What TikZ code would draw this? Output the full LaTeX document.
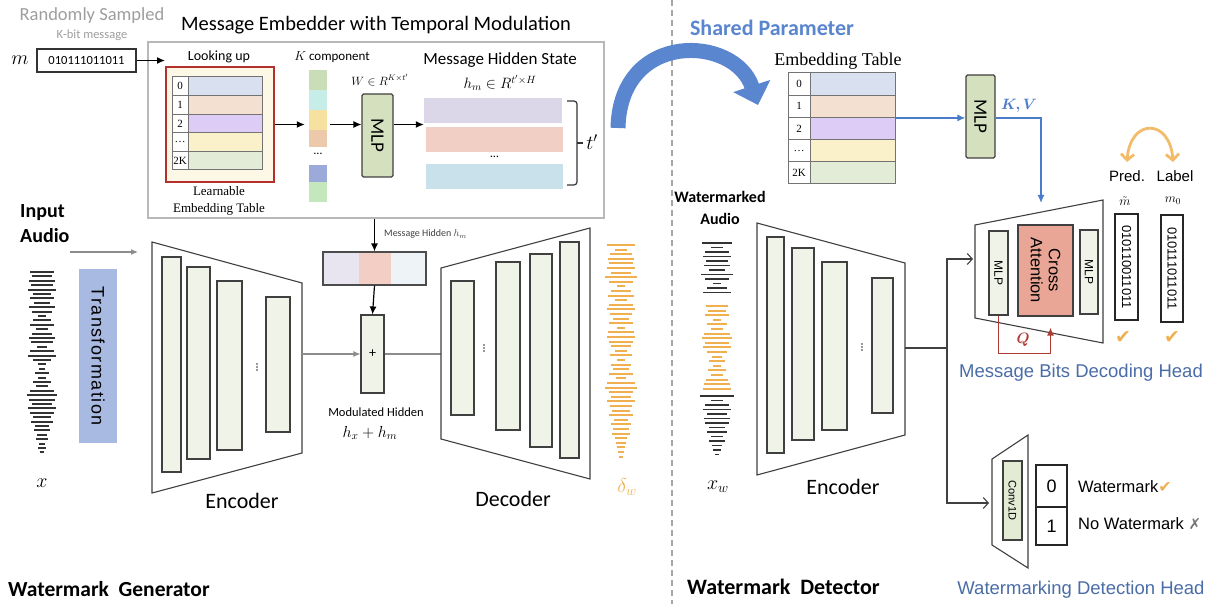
\RequirePackage{fix-cm}
\documentclass[tikz,border=0pt]{standalone}
\usepackage{fontspec}
\usepackage{bm}
\setmainfont{Carlito}
\newfontfamily\arialfont{Liberation Sans}
\newfontfamily\tnrfont{Liberation Serif}
\newfontfamily\symbfont{DejaVu Sans}
\usetikzlibrary{arrows.meta,positioning,calc}

\definecolor{layerfill}{HTML}{F0F3E8}
\definecolor{mlpfill}{HTML}{D5E1BE}
\definecolor{convfill}{HTML}{E3EBD4}
\definecolor{headblue}{HTML}{4A6DA8}
\definecolor{sharedblue}{HTML}{5A86CF}
\definecolor{kvblue}{HTML}{4A7CCB}
\definecolor{wmorange}{HTML}{F0B050}
\definecolor{redframe}{HTML}{B3302C}
\definecolor{qred}{HTML}{B03A32}
\definecolor{attnfill}{HTML}{E9A595}
\definecolor{creamfill}{HTML}{FDF8E6}
\definecolor{transfill}{HTML}{A8BAE2}
\definecolor{rowa}{HTML}{D9E1F0}
\definecolor{rowb}{HTML}{F3E0D0}
\definecolor{rowc}{HTML}{DDCDF6}
\definecolor{rowd}{HTML}{FAF0CA}
\definecolor{rowe}{HTML}{E2ECD7}
\definecolor{kca}{HTML}{C9DDB6}
\definecolor{kcb}{HTML}{C6EDE8}
\definecolor{kcc}{HTML}{F6E1A0}
\definecolor{kcd}{HTML}{ECC9AB}
\definecolor{kce}{HTML}{9CAAD9}
\definecolor{kcf}{HTML}{C5E7BE}
\definecolor{hsa}{HTML}{DCD6E9}
\definecolor{hsb}{HTML}{F1CFC5}
\definecolor{hsc}{HTML}{C9E1EB}
\definecolor{hba}{HTML}{E8E4F0}
\definecolor{hbb}{HTML}{F2CEC5}
\definecolor{hbc}{HTML}{EEF3F8}

\begin{document}
\begin{tikzpicture}[x=1pt,y=-1pt,
	every node/.style={inner sep=0pt},
	layer/.style={draw=black!75, fill=layerfill, line width=1.1pt},
	trapz/.style={draw=black!75, line width=1.1pt},
	mlpbox/.style={draw=black!75, fill=mlpfill, line width=1.2pt, rounded corners=1.5pt},
	idx/.style={draw=black!55, fill=white, line width=1pt, font=\tnrfont\fontsize{11}{11}\selectfont},
	val/.style={draw=black!55, line width=1pt},
	wave/.style={line width=1.9pt, black!80},
	owave/.style={line width=1.9pt, wmorange},
	arr/.style={-{Latex[length=8pt,width=7pt]}, line width=1.2pt},
	grayarr/.style={-{Latex[length=7pt,width=6pt]}, line width=1.1pt, black!45},
	barb/.style={-{Straight Barb[length=5pt,width=11pt]}, line width=1.1pt, black!75},
	blueline/.style={-{Latex[length=8pt,width=7pt]}, line width=1.3pt, kvblue},
	bitbox/.style={draw=black!85, line width=1.2pt, fill=white},
	vdot/.style={fill=black!80, circle, minimum size=1.6pt},
]
\useasboundingbox (0,0) rectangle (1220,604);
\fill[white] (0,0) rectangle (1220,604);

% divider
\draw[black!35, line width=1.2pt, dash pattern=on 6pt off 4pt] (672,0) -- (672,604);

% ---------- generator: message embedder ----------
\node[font=\fontsize{18.5}{18.5}\selectfont, text=black!38] (rs) at (92,16) {Randomly Sampled};
\node[font=\fontsize{12.5}{12.5}\selectfont, text=black!38] (kbit) at (92,35) {K-bit message};
\node[font=\fontsize{20}{20}\selectfont] (m) at (20,60) {$m$};
\node[draw=black!80, line width=1.2pt, minimum width=99, minimum height=23, font=\fontsize{12.5}{12.5}\selectfont] (mbox) at (86.5,60.5) {010111011011};

\node[draw=black!28, line width=1.3pt, minimum width=456, minimum height=176] (embed) at (376,130) {};
\node[font=\fontsize{20.5}{20.5}\selectfont] (embtitle) at (376,25) {Message Embedder with Temporal Modulation};

\node[font=\fontsize{14}{14}\selectfont] (look) at (219,57) {Looking up};
\node[draw=redframe, fill=creamfill, line width=2pt, minimum width=108, minimum height=115] (lut) at (220,124.5) {};
\foreach \lbl/\col [count=\r from 0] in {0/rowa,1/rowb,2/rowc,\ldots/rowd,2K/rowe} {
	\node[idx, minimum width=16, minimum height=18.6] (li\r) at (180,86.3+18.6*\r) {\lbl};
	\node[val, fill=\col, minimum width=74, minimum height=18.6] (lv\r) at (225,86.3+18.6*\r) {};
}
\node[font=\tnrfont\fontsize{13}{13}\selectfont] (learn1) at (219,191) {Learnable};
\node[font=\tnrfont\fontsize{13}{13}\selectfont] (learn2) at (219,209) {Embedding Table};

% K components
\node[font=\fontsize{13}{13}\selectfont] (kcomp) at (332,57) {$K$ component};
\foreach \ya/\yb/\col in {70/90/kca,90/110/kcb,110/130/kcc,130/147/kcd,165/182/kce,182/202/kcf}
	\fill[\col] (309,\ya) rectangle (327,\yb);
\node[minimum width=18, minimum height=132] (kcol) at (318,136) {};
\node[font=\fontsize{12}{12}\selectfont] (kdots) at (318,154) {\ldots};

\node[mlpbox, minimum width=31, minimum height=83, label={[rotate=-90, font=\fontsize{19}{19}\selectfont]center:MLP}] (mlpA) at (377.5,135.5) {};
\node[font=\fontsize{12}{12}\selectfont] (wdim) at (380,80) {$W \in R^{K\times t'}$};

\node[font=\fontsize{17}{17}\selectfont] (mhs) at (500,60) {Message Hidden State};
\node[font=\fontsize{15}{15}\selectfont] (hmdim) at (500,83) {$h_m \in R^{t'\times H}$};
\node[fill=hsa, minimum width=138, minimum height=25] (hs1) at (493,110.5) {};
\node[fill=hsb, minimum width=137, minimum height=25] (hs2) at (494.5,139.5) {};
\node[font=\fontsize{12}{12}\selectfont] (hsdots) at (494.5,157) {\ldots};
\node[fill=hsc, minimum width=137, minimum height=25] (hs3) at (494.5,176.5) {};
\draw[line width=1.2pt, black!80, rounded corners=3pt] (567,101) -- (577,101) -- (577,185) -- (567,185);
\draw[line width=1.2pt, black!80] (577,143) -- (583,143);
\node[font=\fontsize{20}{20}\selectfont] (tp) at (592,142) {$t'$};

\draw[arr] (mbox.east) -- (mbox.east -| lut.west);
\draw[arr, shorten >=4pt] (lut.east) -- (lut.east -| kcol.west);
\draw[arr, shorten <=3pt] (kcol.east |- lut.east) -- (mlpA.west |- lut.east);
\draw[arr] (mlpA.east |- lut.east) -- (hs1.west |- lut.east);

% shared parameter arrow
\draw[line width=15pt, sharedblue, -{Triangle[length=20pt,width=38pt]}] (618,128) .. controls (620,30) and (735,35) .. (758,105);

% ---------- generator: encoder / decoder ----------
\node[font=\bfseries\fontsize{20}{25}\selectfont, align=left, anchor=north west] (inaudio) at (20,204) {Input\\Audio};
\coordinate (inA) at (70,252);
\coordinate (inB) at (138,252);
\draw[grayarr] (inA) -- (inB);

\foreach \w [count=\i from 0] in {12,10,13,11,14,9,12,8,13,10,4,9,12,6,10,13,11,5,12,14,9,4,3,7,4,9,6,12,15,13,10,14,12,9,11,7,8,5,6,3,4,2}
	\draw[wave] ({42-\w},{272+4.4*\i}) -- ({42+\w},{272+4.4*\i});
\node[font=\fontsize{20}{20}\selectfont] (xlab) at (42,483) {$x$};

\node[fill=transfill, minimum width=38, minimum height=174, label={[rotate=-90, font=\arialfont\addfontfeature{LetterSpace=8}\fontsize{18}{18}\selectfont]center:Transformation}] (trans) at (98,356) {};

\draw[trapz] (152,242) -- (302,283) -- (302,453) -- (152,493) -- cycle;
\node[layer, minimum width=19, minimum height=215] (ge1) at (171.5,364.5) {};
\node[layer, minimum width=23, minimum height=192] (ge2) at (198.5,363) {};
\node[layer, minimum width=25, minimum height=169] (ge3) at (229.5,365.5) {};
\foreach \k in {-3,0,3} \node[vdot] (gedot\k) at (257,367+\k) {};
\node[layer, minimum width=24, minimum height=135] (ge4) at (278,364.5) {};
\node[font=\fontsize{22}{22}\selectfont] (genc) at (242,501) {Encoder};

\fill[hba] (323,252) rectangle (359,285);
\fill[hbb] (359,252) rectangle (391,285);
\fill[hbc] (391,252) rectangle (426,285);
\node[draw=black!70, line width=1.2pt, minimum width=103, minimum height=33] (hbar) at (374.5,268.5) {};
\node[font=\fontsize{10}{10}\selectfont, text=black!75, anchor=west] (hmlab) at (384,234) {Message Hidden $h_m$};
\node[layer, minimum width=23, minimum height=78, font=\fontsize{14}{14}\selectfont] (plus) at (372.5,354) {+};
\node[font=\fontsize{12.5}{12.5}\selectfont] (modh) at (376,412) {Modulated Hidden};
\node[font=\fontsize{16}{16}\selectfont] (hxhm) at (370,433) {$h_x + h_m$};

\draw[arr] (embed.south -| hbar) -- (hbar.north);
\draw[arr] (hbar.south) -- (plus.north);
\coordinate (gencout) at (302,354);
\coordinate (gdecin) at (441,354);
\draw[grayarr] (gencout) -- (plus.west);
\draw[line width=1.1pt, black!45] (plus.east) -- (gdecin);

\draw[trapz] (441,268) -- (590,228) -- (590,479) -- (441,439) -- cycle;
\node[layer, minimum width=23, minimum height=134] (gd1) at (462.5,348) {};
\foreach \k in {-3,0,3} \node[vdot] (gddot\k) at (484,348+\k) {};
\node[layer, minimum width=24, minimum height=168] (gd2) at (508,346) {};
\node[layer, minimum width=22, minimum height=193] (gd3) at (541,350.5) {};
\node[layer, minimum width=19, minimum height=216] (gd4) at (569.5,350) {};
\node[font=\fontsize{22}{22}\selectfont] (gdec) at (513,499) {Decoder};

\foreach \w [count=\i from 0] in {14,6,11,13,12,14,10,16,12,4,10,13,6,12,14,11,8,12,4,13,14,12,10,6,11,4,10,8,12,5,14,16,12,10,14,11,9,12,7,10,8,9,6,5,4,3,2}
	\draw[owave] ({621-\w},{245+4.6*\i}) -- ({621+\w},{245+4.6*\i});
\node[font=\fontsize{20}{20}\selectfont, text=wmorange] (dw) at (627,487) {$\delta_w$};

\node[font=\bfseries\fontsize{21.5}{21.5}\selectfont, anchor=west] (gentitle) at (8,589) {Watermark~ Generator};

% ---------- detector ----------
\node[font=\bfseries\fontsize{22}{22}\selectfont, text=sharedblue] (shared) at (772,28) {Shared Parameter};
\node[font=\tnrfont\fontsize{18}{18}\selectfont] (rtabt) at (838,61) {Embedding Table};
\foreach \lbl/\col [count=\r from 0] in {0/rowa,1/rowb,2/rowc,\ldots/rowd,2K/rowe} {
	\node[idx, minimum width=22, minimum height=22.2] (ri\r) at (799,84.1+22.2*\r) {\lbl};
	\node[val, fill=\col, minimum width=85, minimum height=22.2] (rv\r) at (852.5,84.1+22.2*\r) {};
}
\node[mlpbox, minimum width=29, minimum height=83, label={[rotate=-90, font=\fontsize{19}{19}\selectfont]center:MLP}] (mlpB) at (980.5,116.5) {};
\coordinate (kvdrop) at (1041,203);
\draw[blueline] (rv1.south east) -- (mlpB.west |- rv1.south east);
\draw[blueline] (mlpB.east |- rv1.south east) -| (kvdrop);
\node[font=\fontsize{15}{15}\selectfont, text=kvblue] (kv) at (1019,106) {$\bm{K,V}$};

\node[font=\bfseries\fontsize{16}{22}\selectfont, align=center] (wmaudio) at (720,208) {Watermarked\\Audio};
\foreach \w [count=\i from 0] in {15,6,12,14,11,13,8,16,12,4,10,14}
	\draw[wave] ({717-\w},{243+4.5*\i}) -- ({717+\w},{243+4.5*\i});
\foreach \w [count=\i from 0] in {11,9,12,4,10,6,13,15,12,14,10,5,8,4,9,6,11,13,14}
	\draw[owave] ({717-\w},{306+4.6*\i}) -- ({717+\w},{306+4.6*\i});
\foreach \w [count=\i from 0] in {17,6,12,14,10,13,12,8,10,6,8,5,4,2}
	\draw[wave] ({717-\w},{396+4.5*\i}) -- ({717+\w},{396+4.5*\i});
\node[font=\fontsize{20}{20}\selectfont] (xw) at (718,487) {$x_w$};

\draw[trapz] (757,223) -- (905,263) -- (905,435) -- (757,475) -- cycle;
\node[layer, minimum width=17, minimum height=216] (de1) at (775.5,345) {};
\node[layer, minimum width=22, minimum height=192] (de2) at (803,344) {};
\node[layer, minimum width=25, minimum height=168] (de3) at (834.5,346) {};
\foreach \k in {-3,0,3} \node[vdot] (dedot\k) at (862,347+\k) {};
\node[layer, minimum width=21, minimum height=135] (de4) at (882.5,345.5) {};
\node[font=\fontsize{22}{22}\selectfont] (denc) at (843,487) {Encoder};
\node[font=\bfseries\fontsize{22}{22}\selectfont, anchor=west] (dettitle) at (687,587) {Watermark~ Detector};

\coordinate (dencout) at (905,348);
\coordinate (split) at (947,348);
\coordinate (headin) at (973,259);
\coordinate (convin) at (989,503);
\draw[line width=1.1pt, black!75] (dencout) -- (split);
\draw[barb] (split) |- (headin);
\draw[barb] (split) |- (convin);

% message bits decoding head
\draw[trapz] (975,225) -- (1103,200) -- (1103,343) -- (975,318) -- cycle;
\node[layer, minimum width=19, minimum height=84, label={[rotate=-90, font=\arialfont\fontsize{12}{12}\selectfont]center:MLP}] (hmlpL) at (998.5,273) {};
\node[draw=black!75, fill=attnfill, line width=1.2pt, minimum width=55, minimum height=91, label={[rotate=-90, align=center, font=\arialfont\fontsize{16.5}{18}\selectfont]center:Cross\\Attention}] (xattn) at (1045.5,270.5) {};
\node[layer, minimum width=18, minimum height=84, label={[rotate=-90, font=\arialfont\fontsize{12}{12}\selectfont]center:MLP}] (hmlpR) at (1089,272) {};
\draw[qred, line width=1.3pt, -{Latex[length=8pt,width=7pt]}] (hmlpL.south) -- ++(0,38) -| ($(xattn.south)+(5,11)$);
\node[font=\fontsize{15}{15}\selectfont, text=qred] (q) at (1023,340) {$\bm{Q}$};

\node[font=\arialfont\fontsize{15}{15}\selectfont] (pred) at (1127,176) {Pred.};
\node[font=\arialfont\fontsize{15}{15}\selectfont] (lbl) at (1175,176) {Label};
\draw[wmorange!85, line width=2.8pt, {Straight Barb[length=6pt,width=13pt]}-{Straight Barb[length=6pt,width=13pt]}] (1127,162) .. controls (1130,118) and (1170,118) .. (1173,162);
\node[font=\fontsize{13}{13}\selectfont] (mt) at (1125,201) {$\tilde{m}$};
\node[font=\fontsize{13}{13}\selectfont] (m0) at (1173,201) {$m_0$};
\node[bitbox, minimum width=23, minimum height=106, label={[rotate=-90, font=\arialfont\fontsize{13}{13}\selectfont]center:010110011011}] (predbox) at (1126.5,267) {};
\node[bitbox, minimum width=22, minimum height=107, label={[rotate=-90, font=\arialfont\fontsize{13}{13}\selectfont]center:010111011011}] (lblbox) at (1172,268.5) {};
\node[font=\symbfont\fontsize{19}{19}\selectfont, text=wmorange] (chk1) at (1123,338) {✔};
\node[font=\symbfont\fontsize{19}{19}\selectfont, text=wmorange] (chk2) at (1172,338) {✔};
\node[font=\arialfont\fontsize{18.5}{18.5}\selectfont, text=headblue] (mbdh) at (1081,373) {Message Bits Decoding Head};

% watermark detection head
\draw[trapz] (992,459) -- (1028,435) -- (1028,568) -- (992,545) -- cycle;
\node[draw=black!75, fill=convfill, line width=1.1pt, minimum width=19, minimum height=79, label={[rotate=-90, font=\arialfont\fontsize{11}{11}\selectfont]center:Conv1D}] (conv) at (1012.5,500.5) {};
\node[bitbox, minimum width=31, minimum height=42, font=\arialfont\fontsize{18}{18}\selectfont] (bit0) at (1051.5,486) {0};
\node[bitbox, minimum width=31, minimum height=38, font=\arialfont\fontsize{18}{18}\selectfont] (bit1) at (1051.5,526) {1};
\node[font=\arialfont\fontsize{16.5}{16.5}\selectfont, anchor=west] (wmyes) at (1078,487) {Watermark{\symbfont\fontsize{16}{16}\selectfont\color{wmorange}✔}};
\node[font=\arialfont\fontsize{16.5}{16.5}\selectfont, anchor=west] (wmno) at (1078,524) {No Watermark {\symbfont\fontsize{15}{15}\selectfont\color{black!55}✗}};
\node[font=\arialfont\fontsize{18.5}{18.5}\selectfont, text=headblue] (wdh) at (1081,590) {Watermarking Detection Head};
\end{tikzpicture}
\end{document}
